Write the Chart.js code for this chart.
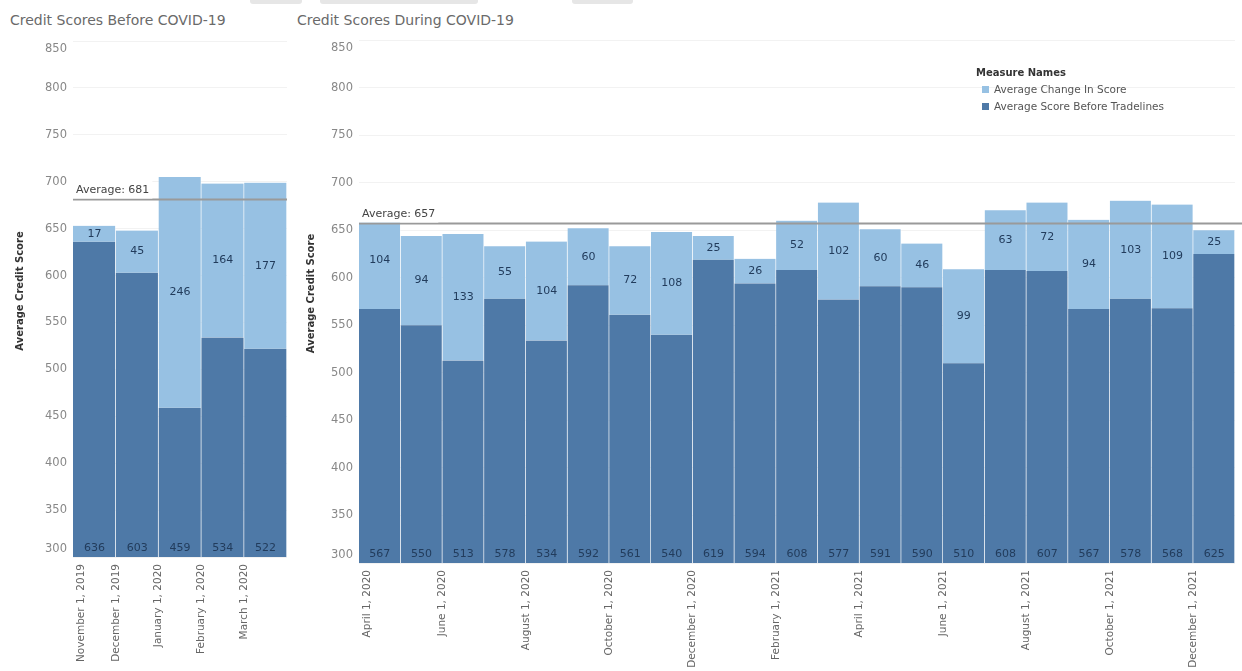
<!DOCTYPE html>
<html>
<head>
<meta charset="utf-8">
<title>Credit Scores</title>
<script src="https://cdn.jsdelivr.net/npm/chart.js@4.4.1/dist/chart.umd.min.js"></script>
<style>
  body { margin: 0; background: #fff; font-family: "DejaVu Sans", "Open Sans", sans-serif; }
  #page { position: relative; width: 1242px; height: 671px; overflow: hidden; }
  .sheet-title { position: absolute; top: 12px; font-size: 14px; color: #6a6a6a; white-space: nowrap; }
  .filter-box { position: absolute; top: 0; height: 4px; background: #e6e6e6; border-radius: 0 0 3px 3px; }
  canvas { position: absolute; top: 0; }
  #legend { position: absolute; left: 976px; top: 64px; font-size: 10.5px; color: #555; line-height: 17px; }
  #legend .head { font-weight: bold; font-size: 10px; color: #333; }
  #legend .sw { display: inline-block; width: 7px; height: 7px; margin: 0 5px 0 6px; vertical-align: 0; }
</style>
</head>
<body>
<div id="page">
  <div class="filter-box" style="left:250px;width:52px"></div>
  <div class="filter-box" style="left:320px;width:158px"></div>
  <div class="filter-box" style="left:572px;width:61px"></div>

  <div class="sheet-title" style="left:10px">Credit Scores Before COVID-19</div>
  <div class="sheet-title" style="left:297px">Credit Scores During COVID-19</div>

  <canvas id="before" width="292" height="671" style="left:0"></canvas>
  <canvas id="during" width="950" height="671" style="left:292px"></canvas>

  <div id="legend">
    <div class="head">Measure Names</div>
    <div><span class="sw" style="background:#97c1e3"></span>Average Change In Score</div>
    <div><span class="sw" style="background:#4e79a7"></span>Average Score Before Tradelines</div>
  </div>
</div>

<script>
// months before the pandemic
const beforeMonths = ['November 1, 2019', 'December 1, 2019', 'January 1, 2020', 'February 1, 2020', 'March 1, 2020'];
const beforeScore = [636, 603, 459, 534, 522];
const beforeChange = [17, 45, 246, 164, 177];
const beforeAverage = 681;

// months during the pandemic
const duringMonths = [
  'April 1, 2020', 'May 1, 2020', 'June 1, 2020', 'July 1, 2020', 'August 1, 2020', 'September 1, 2020',
  'October 1, 2020', 'November 1, 2020', 'December 1, 2020', 'January 1, 2021', 'February 1, 2021',
  'March 1, 2021', 'April 1, 2021', 'May 1, 2021', 'June 1, 2021', 'July 1, 2021', 'August 1, 2021',
  'September 1, 2021', 'October 1, 2021', 'November 1, 2021', 'December 1, 2021'
];
const duringScore = [567, 550, 513, 578, 534, 592, 561, 540, 619, 594, 608, 577, 591, 590, 510, 608, 607, 567, 578, 568, 625];
const duringChange = [104, 94, 133, 55, 104, 60, 72, 108, 25, 26, 52, 102, 60, 46, 99, 63, 72, 94, 103, 109, 25];
const duringAverage = 657;

const scoreMin = 300;
const scoreMax = 850;
const scoreStep = 50;

const DARK = '#4e79a7';
const LIGHT = '#97c1e3';
const FONT = '"DejaVu Sans", "Open Sans", sans-serif';

// axis labels, value labels and the average line
const extras = {
  id: 'extras',
  afterDatasetsDraw(chart, args, opts) {
    const { ctx, chartArea: a, scales: { x, y } } = chart;
    ctx.save();

    // y tick labels (end labels pulled inside the axis)
    ctx.font = '11.5px ' + FONT;
    ctx.fillStyle = '#888';
    ctx.textAlign = 'right';
    ctx.textBaseline = 'middle';
    y.ticks.forEach(t => {
      let py = y.getPixelForValue(t.value);
      py = Math.min(Math.max(py, a.top + 8), a.bottom - 8);
      ctx.fillText(String(t.value), a.left - 6, py);
    });

    // y axis title
    ctx.save();
    ctx.translate(opts.titleX, (a.top + a.bottom) / 2 - 8);
    ctx.rotate(-Math.PI / 2);
    ctx.font = 'bold 10px ' + FONT;
    ctx.fillStyle = '#333';
    ctx.textAlign = 'center';
    ctx.textBaseline = 'middle';
    ctx.fillText('Average Credit Score', 0, 0);
    ctx.restore();

    // month labels sit on the left edge of each bar
    const step = (x.right - x.left) / chart.data.labels.length;
    ctx.font = '10.5px ' + FONT;
    ctx.fillStyle = '#666';
    chart.data.labels.forEach((lab, i) => {
      if (i % opts.every) return;
      let px = x.getPixelForValue(i) - step / 2;
      px = Math.max(px, a.left + 8);
      ctx.save();
      ctx.translate(px, a.bottom + 7);
      ctx.rotate(-Math.PI / 2);
      ctx.textAlign = 'right';
      ctx.textBaseline = 'middle';
      ctx.fillText(lab, 0, 0);
      ctx.restore();
    });

    // value labels
    ctx.font = '11px ' + FONT;
    ctx.fillStyle = '#223c5c';
    ctx.textAlign = 'center';
    ctx.textBaseline = 'middle';
    const base = chart.getDatasetMeta(0).data;
    const top = chart.getDatasetMeta(1).data;
    base.forEach((bar, i) => {
      ctx.fillText(String(chart.data.datasets[0].data[i]), bar.x, a.bottom - 9);
      const seg = top[i];
      ctx.fillText(String(chart.data.datasets[1].data[i]), seg.x, (seg.y + seg.base) / 2);
    });

    // average reference line
    const ay = y.getPixelForValue(opts.average);
    ctx.strokeStyle = '#9a9a9a';
    ctx.lineWidth = 2;
    ctx.beginPath();
    ctx.moveTo(a.left, ay);
    ctx.lineTo(opts.lineToEdge ? chart.width : a.right, ay);
    ctx.stroke();

    const avgText = 'Average: ' + opts.average;
    ctx.font = '11px ' + FONT;
    const w = ctx.measureText(avgText).width;
    ctx.fillStyle = '#fff';
    ctx.fillRect(a.left, ay - 19, w + 6, 18);
    ctx.textAlign = 'left';
    ctx.fillStyle = '#444';
    ctx.fillText(avgText, a.left + 3, ay - 9);

    ctx.restore();
  }
};

function makeChart(id, labels, score, change, average, pad, extraOpts) {
  return new Chart(document.getElementById(id), {
    type: 'bar',
    data: {
      labels: labels,
      datasets: [
        {
          label: 'Average Score Before Tradelines',
          data: score,
          backgroundColor: DARK,
          borderColor: 'rgba(255,255,255,0.4)',
          borderWidth: { left: 0, right: 1, top: 0, bottom: 0 },
          borderSkipped: false
        },
        {
          label: 'Average Change In Score',
          data: change,
          backgroundColor: LIGHT,
          borderColor: 'rgba(255,255,255,0.4)',
          borderWidth: { left: 0, right: 1, top: 0, bottom: 0 },
          borderSkipped: false
        }
      ]
    },
    options: {
      responsive: false,
      animation: false,
      devicePixelRatio: 1,
      layout: { padding: pad },
      datasets: { bar: { barPercentage: 1, categoryPercentage: 1 } },
      plugins: {
        legend: { display: false },
        tooltip: { enabled: false },
        extras: Object.assign({ average: average }, extraOpts)
      },
      scales: {
        x: {
          display: false,
          stacked: true
        },
        y: {
          stacked: true,
          min: scoreMin,
          max: scoreMax,
          grid: { color: '#f2f2f2', drawTicks: false },
          border: { display: false },
          ticks: { display: false, stepSize: scoreStep }
        }
      }
    },
    plugins: [extras]
  });
}

makeChart('before', beforeMonths, beforeScore, beforeChange, beforeAverage,
  { left: 73, right: 5, top: 41, bottom: 114 },
  { titleX: 20, every: 1, lineToEdge: false });

makeChart('during', duringMonths, duringScore, duringChange, duringAverage,
  { left: 67, right: 7, top: 40, bottom: 108 },
  { titleX: 19, every: 2, lineToEdge: true });
</script>
</body>
</html>
